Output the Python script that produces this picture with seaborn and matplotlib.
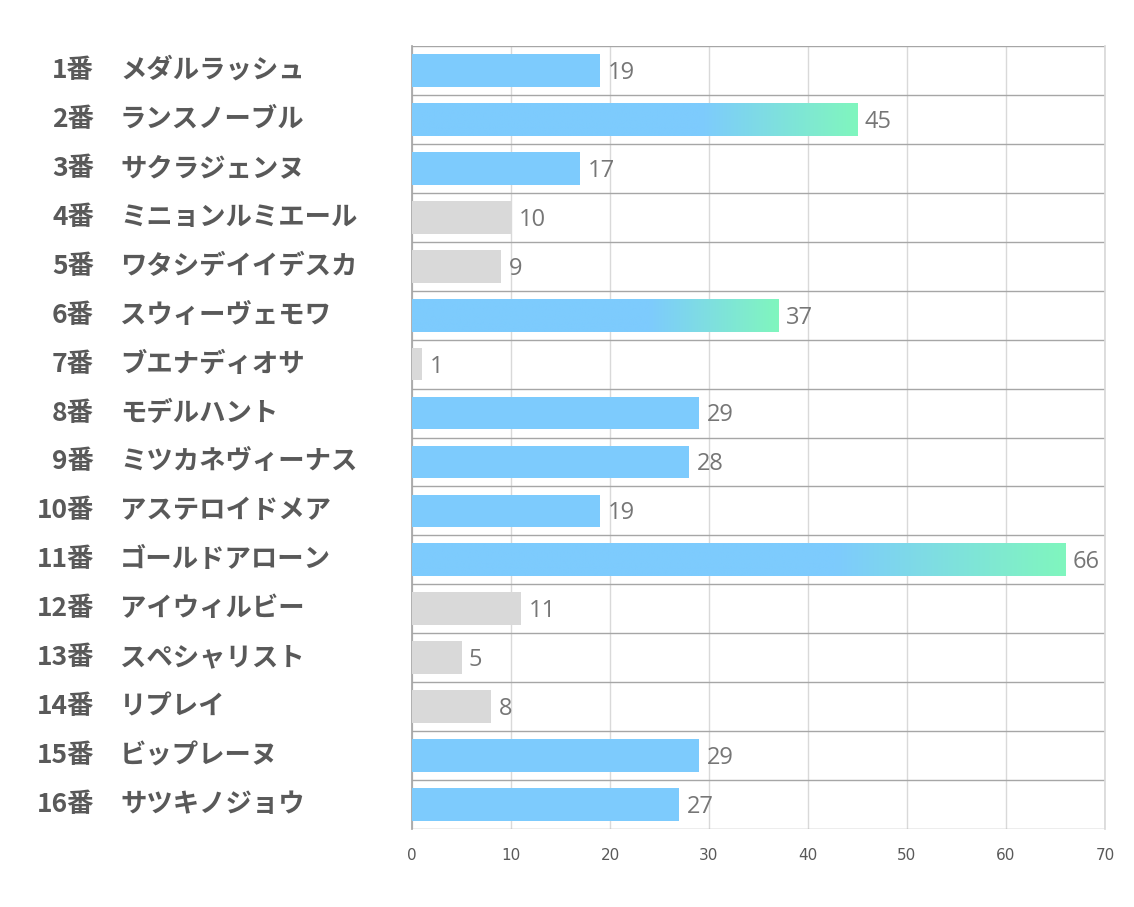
import matplotlib
matplotlib.use("Agg")
import matplotlib.pyplot as plt
import matplotlib.transforms as mtransforms
from matplotlib.colors import to_rgb
import numpy as np
import pandas as pd
import seaborn as sns

sns.set_theme(style="white")
plt.rcParams["font.family"] = ["Noto Sans CJK JP", "DejaVu Sans"]

numbers = [f"{i}番" for i in range(1, 17)]
names = ["メダルラッシュ", "ランスノーブル", "サクラジェンヌ", "ミニョンルミエール",
         "ワタシデイイデスカ", "スウィーヴェモワ", "ブエナディオサ", "モデルハント",
         "ミツカネヴィーナス", "アステロイドメア", "ゴールドアローン", "アイウィルビー",
         "スペシャリスト", "リプレイ", "ビップレーヌ", "サツキノジョウ"]
values = [19, 45, 17, 10, 9, 37, 1, 29, 28, 19, 66, 11, 5, 8, 29, 27]
groups = ["blue", "grad", "blue", "gray", "gray", "grad", "gray", "blue",
          "blue", "blue", "grad", "gray", "gray", "gray", "blue", "blue"]

BLUE = "#7DCBFD"
GREEN = "#80F6BE"
GRAY = "#D9D9D9"
TXT = "#595959"

df = pd.DataFrame({"label": [f"{n} {m}" for n, m in zip(numbers, names)],
                   "value": values, "group": groups})
palette = {lab: (GRAY if g == "gray" else BLUE) for lab, g in zip(df["label"], df["group"])}

fig = plt.figure(figsize=(11.34, 9.07), dpi=100)
ax = fig.add_axes([412 / 1134, 1 - 829 / 907, 693 / 1134, 783 / 907])

sns.barplot(data=df, x="value", y="label", hue="label", palette=palette, legend=False,
            orient="h", width=0.67, saturation=1, linewidth=0, ax=ax, zorder=3)

ax.set_xlim(0, 70)
ax.set_ylim(len(df) - 0.5, -0.5)
ax.set_xticks(range(0, 71, 10))
ax.set_yticks([])
ax.set_yticks(np.arange(-0.5, len(df), 1), minor=True)
ax.grid(axis="x", which="major", color="#D9D9D9", lw=1, zorder=0)
ax.grid(axis="y", which="minor", color="#A6A6A6", lw=1, zorder=0)
ax.tick_params(axis="y", which="both", length=0)
ax.tick_params(axis="x", length=0, pad=14, labelsize=11, labelcolor=TXT)
for t in ax.get_xticklabels():
    t.set_family(["Liberation Sans Narrow", "DejaVu Sans"])
ax.set_xlabel("")
ax.set_ylabel("")
for side in ["top", "bottom"]:
    ax.spines[side].set_visible(False)
ax.spines["left"].set_color("#A6A6A6")
ax.spines["right"].set_color("#D9D9D9")

# gradient overlay on the highlighted bars
c1, c2 = np.array(to_rgb(BLUE)), np.array(to_rgb(GREEN))
ramp = np.clip((np.linspace(0, 1, 256) - 0.65) / 0.35, 0, 1)
grad_img = (c1[None, :] * (1 - ramp[:, None]) + c2[None, :] * ramp[:, None])[None, :, :]
for p in ax.patches:
    idx = int(round(p.get_y() + p.get_height() / 2))
    if groups[idx] != "grad":
        continue
    x0, y0, w, h = p.get_x(), p.get_y(), p.get_width(), p.get_height()
    im = ax.imshow(grad_img, extent=(x0, x0 + w, y0 + h, y0), aspect="auto", zorder=4)
    im.set_clip_path(p)

ax.set_ylim(len(df) - 0.5, -0.5)
ax.set_xlim(0, 70)

# value labels
for i, v in enumerate(values):
    ax.text(v + 0.75, i + 0.05, str(v), va="center", ha="left", fontsize=17, color="#767676",
            family=["Open Sans", "DejaVu Sans"], zorder=5)

# row labels
trans_num = mtransforms.blended_transform_factory(fig.transFigure, ax.transData)
for i, (n, m) in enumerate(zip(numbers, names)):
    ax.text(94 / 1134, i, n, transform=trans_num, ha="right", va="center",
            fontsize=19, fontweight="bold", color=TXT, clip_on=False)
    ax.text(120 / 1134, i, m, transform=trans_num, ha="left", va="center",
            fontsize=19, fontweight="bold", color=TXT, clip_on=False)

fig.savefig("out.png", dpi=100)
